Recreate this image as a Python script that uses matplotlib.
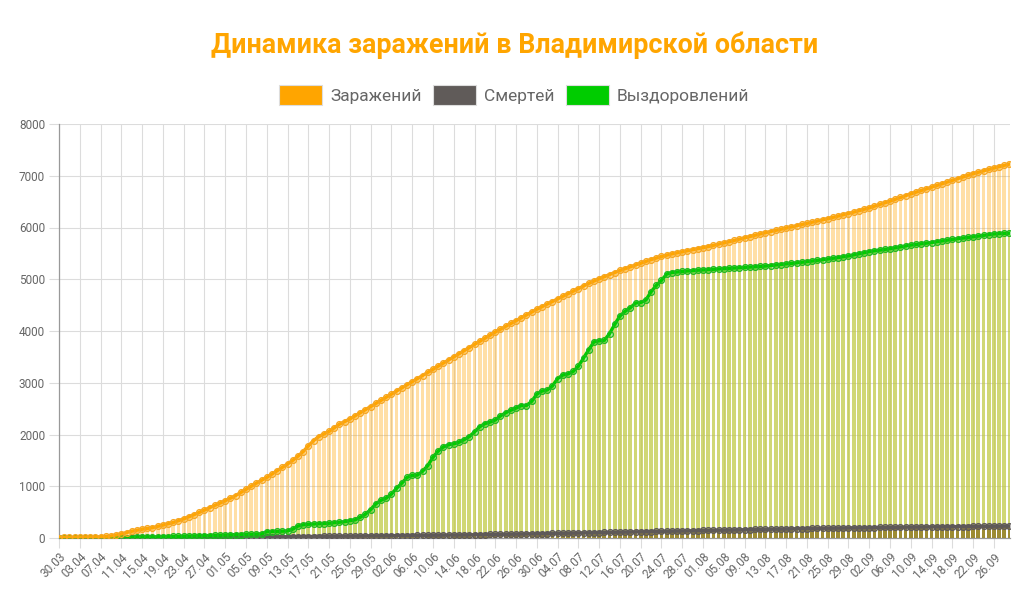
import matplotlib
matplotlib.use("Agg")
import matplotlib.pyplot as plt
from matplotlib.patches import Rectangle
import numpy as np
import pandas as pd

plt.rcParams['font.family'] = ['Roboto', 'DejaVu Sans']

# daily values, 30.03 .. 29.09
dates = pd.date_range('2020-03-30', periods=184).strftime('%d.%m').tolist()

infected = [
    8, 10, 12, 14, 15, 17, 19, 21, 24, 30,
    40, 58, 80, 105, 130, 150, 170, 185, 200, 225,
    250, 275, 300, 335, 370, 410, 450, 495, 540, 585,
    630, 675, 720, 770, 820, 880, 940, 1000, 1060, 1115,
    1170, 1235, 1300, 1365, 1430, 1500, 1580, 1670, 1780, 1880,
    1960, 2010, 2060, 2130, 2200, 2250, 2300, 2360, 2420, 2480,
    2540, 2600, 2660, 2720, 2780, 2840, 2900, 2960, 3020, 3080,
    3140, 3200, 3260, 3320, 3380, 3440, 3500, 3560, 3620, 3680,
    3740, 3800, 3860, 3920, 3980, 4035, 4090, 4145, 4200, 4255,
    4310, 4365, 4420, 4470, 4520, 4570, 4620, 4670, 4720, 4770,
    4820, 4870, 4920, 4965, 5010, 5050, 5090, 5130, 5170, 5205,
    5240, 5275, 5310, 5345, 5380, 5410, 5440, 5465, 5490, 5510,
    5530, 5550, 5570, 5590, 5610, 5632, 5655, 5678, 5700, 5725,
    5750, 5775, 5800, 5825, 5850, 5875, 5900, 5922, 5945, 5968,
    5990, 6012, 6035, 6058, 6080, 6102, 6125, 6148, 6170, 6195,
    6220, 6245, 6270, 6297, 6325, 6352, 6380, 6412, 6445, 6478,
    6510, 6545, 6580, 6615, 6650, 6682, 6715, 6748, 6780, 6812,
    6845, 6878, 6910, 6942, 6975, 7008, 7040, 7068, 7095, 7122,
    7150, 7175, 7200, 7226,
]

deaths = [
    0, 0, 0, 0, 0, 0, 0, 0, 1, 1,
    1, 2, 2, 3, 3, 4, 4, 5, 5, 6,
    6, 7, 7, 8, 8, 9, 9, 10, 10, 11,
    11, 12, 12, 13, 13, 14, 14, 15, 16, 17,
    18, 19, 20, 21, 22, 23, 24, 25, 26, 27,
    28, 29, 30, 31, 32, 33, 34, 35, 36, 37,
    38, 39, 40, 41, 42, 44, 45, 46, 47, 49,
    50, 51, 53, 54, 55, 57, 58, 59, 61, 62,
    64, 65, 67, 68, 70, 71, 73, 74, 76, 78,
    79, 81, 83, 84, 86, 88, 90, 91, 93, 95,
    97, 99, 101, 103, 105, 107, 109, 111, 113, 115,
    117, 119, 121, 123, 125, 127, 129, 131, 133, 135,
    137, 139, 141, 143, 145, 147, 149, 151, 153, 155,
    157, 159, 161, 163, 165, 167, 169, 171, 172, 174,
    176, 178, 179, 181, 183, 184, 186, 188, 189, 191,
    192, 194, 195, 197, 198, 199, 201, 202, 203, 205,
    206, 207, 208, 209, 211, 212, 213, 214, 215, 216,
    217, 218, 219, 220, 221, 222, 223, 224, 225, 226,
    227, 228, 229, 230,
]

recovered = [
    0, 0, 0, 0, 1, 1, 2, 2, 3, 4,
    5, 6, 8, 9, 11, 13, 15, 17, 19, 22,
    25, 27, 30, 32, 35, 37, 40, 42, 45, 48,
    52, 56, 60, 62, 65, 67, 70, 73, 76, 80,
    120, 125, 128, 131, 135, 170, 230, 255, 265, 270,
    275, 280, 285, 295, 305, 315, 335, 350, 400, 460,
    550, 660, 730, 770, 850, 960, 1060, 1170, 1210, 1215,
    1290, 1400, 1560, 1680, 1760, 1800, 1820, 1850, 1900, 1960,
    2050, 2150, 2210, 2240, 2280, 2360, 2420, 2470, 2510, 2560,
    2560, 2640, 2780, 2840, 2860, 2940, 3080, 3150, 3170, 3220,
    3320, 3480, 3640, 3790, 3810, 3820, 3950, 4130, 4290, 4380,
    4450, 4540, 4550, 4600, 4760, 4880, 4980, 5100, 5130, 5140,
    5150, 5160, 5165, 5175, 5180, 5186, 5192, 5198, 5205, 5211,
    5217, 5223, 5230, 5236, 5242, 5248, 5255, 5265, 5275, 5285,
    5295, 5306, 5317, 5328, 5340, 5352, 5364, 5376, 5390, 5405,
    5420, 5435, 5450, 5470, 5490, 5512, 5535, 5548, 5562, 5576,
    5590, 5608, 5625, 5642, 5660, 5672, 5685, 5698, 5710, 5725,
    5740, 5755, 5770, 5782, 5795, 5808, 5820, 5834, 5848, 5862,
    5875, 5882, 5887, 5890,
]

yticks = [0, 1000, 2000, 3000, 4000, 5000, 6000, 7000, 8000]
legend_labels = ['Заражений', 'Смертей', 'Выздоровлений']

c_orange = '#FFA500'
c_gray = '#5F5A58'
c_green = '#00CC00'

fig = plt.figure(figsize=(10.28, 5.92), dpi=100)
ax = fig.add_axes([59 / 1028, 54 / 592, 951 / 1028, 414 / 592])

x = np.arange(len(dates))
bw = 0.72
ax.bar(x, infected, width=bw, color=(1.0, 0.647, 0.0, 0.35), linewidth=0, zorder=2)
ax.bar(x, recovered, width=bw, color=(0.67, 0.82, 0.30, 0.55), linewidth=0, zorder=3)
ax.bar(x, deaths, width=bw, color=(0.55, 0.45, 0.12, 0.75), linewidth=0, zorder=4)

mk = dict(marker='o', markersize=4.2, markeredgewidth=0.9)
ax.plot(x, deaths, color=c_gray, lw=2.4, mfc=(0.37, 0.35, 0.35, 0.4), mec=c_gray, zorder=5, **mk)
ax.plot(x, recovered, color=c_green, lw=2.4, mfc=(0.0, 0.8, 0.0, 0.35), mec='#22b822', zorder=6, **mk)
ax.plot(x, infected, color=c_orange, lw=2.4, mfc=(1.0, 0.65, 0.0, 0.35), mec='#f5a623', zorder=7, **mk)

ax.set_xlim(0, len(dates) - 1 + 0.1)
ax.set_ylim(0, 8000)
ax.set_yticks(yticks)
ax.set_yticklabels([str(v) for v in yticks])
ax.set_xticks(x[::4])
ax.set_xticklabels(dates[::4], rotation=45, ha='right', va='top', rotation_mode='anchor')

ax.grid(True, color='#dcdcdc', lw=0.8, zorder=0)
ax.set_axisbelow(True)
ax.tick_params(axis='both', length=7, color='#dcdcdc', labelcolor='#666666', labelsize=8.5, pad=3)
ax.tick_params(axis='x', pad=2)
for s in ['top', 'right']:
    ax.spines[s].set_visible(False)
for s in ['left', 'bottom']:
    ax.spines[s].set_color('#999999')
    ax.spines[s].set_linewidth(0.9)

fig.text(515 / 1028, 1 - 45 / 592, 'Динамика заражений в Владимирской области',
         ha='center', va='center', color=c_orange, fontsize=19.4, fontweight='bold')

# legend
boxes = [(279, c_orange), (433, '#605b59'), (566, '#00CC00')]
for (bx, col), lab in zip(boxes, legend_labels):
    fig.patches.append(Rectangle((bx / 1028, 1 - 105 / 592), 43 / 1028, 20 / 592,
                                 transform=fig.transFigure, facecolor=col,
                                 edgecolor='#dddddd', lw=0.8))
    fig.text((bx + 51) / 1028, 1 - 96 / 592, lab, ha='left', va='center',
             color='#666666', fontsize=12.5)

fig.savefig('out.png', dpi=100, facecolor='white')
